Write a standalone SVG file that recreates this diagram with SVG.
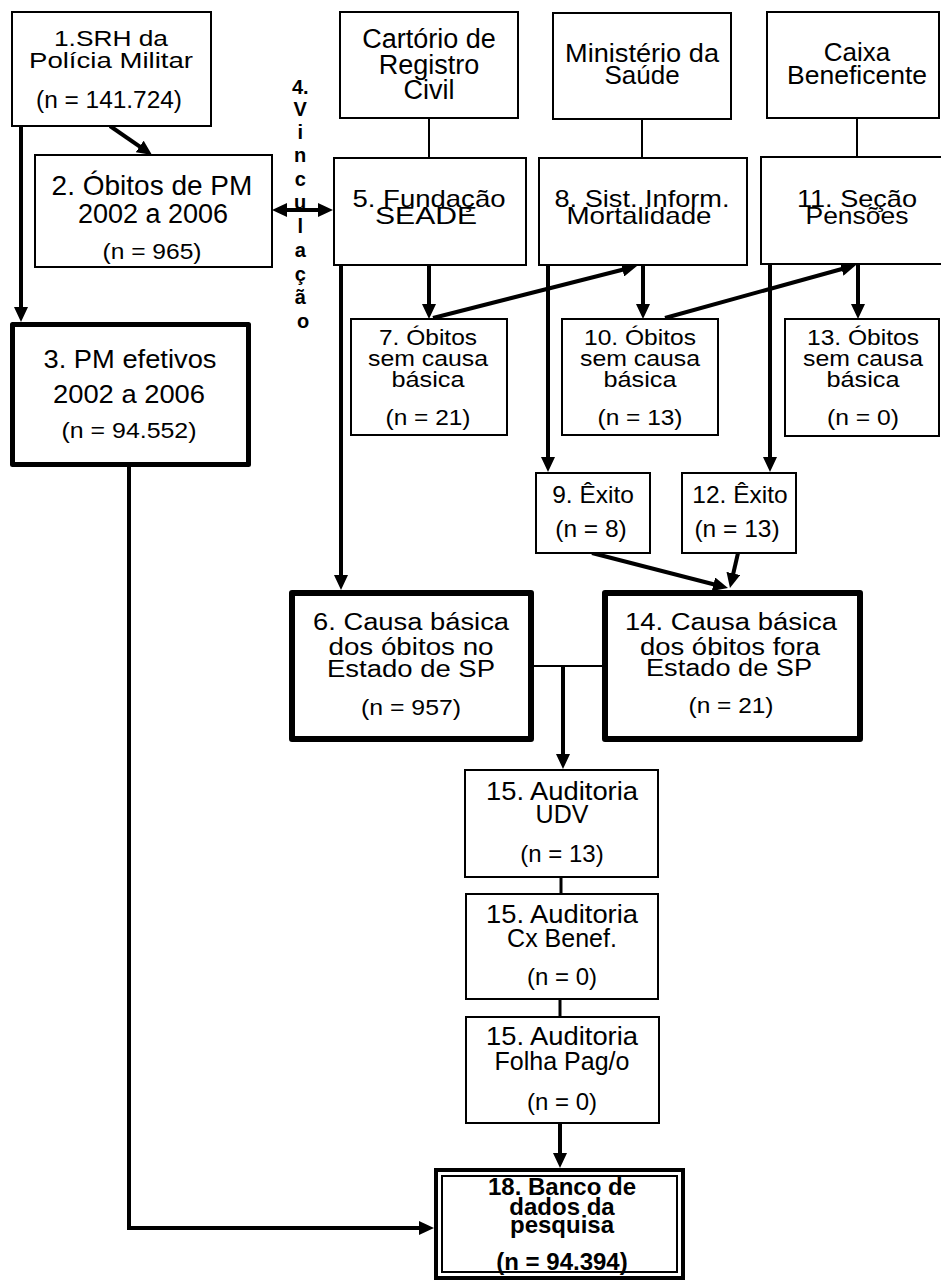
<svg xmlns="http://www.w3.org/2000/svg" width="941" height="1281" viewBox="0 0 941 1281">
<style>
.box{fill:#fff;stroke:#000;stroke-width:2}
.thick{fill:#fff;stroke:#000;stroke-width:6;stroke-linejoin:round}
.t{font-family:"Liberation Sans",Arial,sans-serif;fill:#000;text-anchor:middle}
.b{font-weight:bold}
.c{stroke:#000;stroke-width:4;fill:none}
.thin{stroke:#000;stroke-width:2;fill:none}
</style>
<defs>
<marker id="ah" markerUnits="userSpaceOnUse" viewBox="0 0 15 14" markerWidth="15" markerHeight="14" refX="5" refY="7" orient="auto-start-reverse">
<path d="M0,0 L15,7 L0,14 Z" fill="#000"/>
</marker>
</defs>
<rect width="941" height="1281" fill="#fff"/>

<g id="connectors">
<line class="thin" x1="429" y1="118" x2="429" y2="158"/>
<line class="thin" x1="642" y1="119" x2="642" y2="158"/>
<line class="thin" x1="857" y1="118" x2="857" y2="157"/>
<line class="c" x1="21" y1="126" x2="21" y2="312" marker-end="url(#ah)"/>
<line class="c" x1="110" y1="126" x2="143.8" y2="149.3" marker-end="url(#ah)"/>
<line class="c" x1="282" y1="210" x2="323" y2="210" marker-start="url(#ah)" marker-end="url(#ah)"/>
<line class="c" x1="429" y1="265" x2="429" y2="309" marker-end="url(#ah)"/>
<line class="c" x1="643" y1="265" x2="643" y2="309" marker-end="url(#ah)"/>
<line class="c" x1="858" y1="264" x2="858" y2="309" marker-end="url(#ah)"/>
<line class="c" x1="433" y1="318" x2="627.3" y2="268.5" marker-end="url(#ah)"/>
<line class="c" x1="665" y1="318" x2="846.4" y2="267.7" marker-end="url(#ah)"/>
<line class="c" x1="548" y1="265" x2="548" y2="462" marker-end="url(#ah)"/>
<line class="c" x1="770" y1="264" x2="770" y2="462" marker-end="url(#ah)"/>
<line class="c" x1="341" y1="265" x2="341" y2="580" marker-end="url(#ah)"/>
<line class="c" x1="592" y1="553" x2="718.3" y2="585.5" marker-end="url(#ah)"/>
<line class="c" x1="738" y1="553" x2="732.2" y2="578.3" marker-end="url(#ah)"/>
<line class="thin" x1="534" y1="666" x2="602" y2="666"/>
<line class="c" x1="563" y1="666" x2="563" y2="759" marker-end="url(#ah)"/>
<line class="c" x1="561" y1="877" x2="561" y2="894" style="stroke-width:3"/>
<line class="c" x1="560" y1="999" x2="560" y2="1017" style="stroke-width:3"/>
<line class="c" x1="560" y1="1123" x2="560" y2="1158" marker-end="url(#ah)"/>
<path class="c" d="M129,467 V1228 H424" marker-end="url(#ah)"/>
</g>

<g id="n1">
<rect class="box" x="12" y="12" width="199" height="114"/>
<text class="t" font-size="22" x="111" y="46" textLength="114" lengthAdjust="spacingAndGlyphs">1.SRH da</text>
<text class="t" font-size="22" x="111" y="68" textLength="164" lengthAdjust="spacingAndGlyphs">Polícia Militar</text>
<text class="t" font-size="23" x="109" y="108" textLength="146" lengthAdjust="spacingAndGlyphs">(n = 141.724)</text>
</g>

<g id="n2">
<rect class="box" x="35" y="155" width="237" height="112"/>
<text class="t" font-size="28" x="152" y="195">2. Óbitos de PM</text>
<text class="t" font-size="27" x="153" y="223">2002 a 2006</text>
<text class="t" font-size="22" x="152" y="259" textLength="99" lengthAdjust="spacingAndGlyphs">(n = 965)</text>
</g>

<g id="n3">
<rect class="thick" x="12.5" y="324.5" width="236" height="140" style="stroke-width:5"/>
<text class="t" font-size="25" x="130" y="368" textLength="173" lengthAdjust="spacingAndGlyphs">3. PM efetivos</text>
<text class="t" font-size="25" x="129" y="403" textLength="152" lengthAdjust="spacingAndGlyphs">2002 a 2006</text>
<text class="t" font-size="22" x="129" y="438" textLength="135" lengthAdjust="spacingAndGlyphs">(n = 94.552)</text>
</g>

<g id="n4">
<text class="t b" font-size="20" x="303">
<tspan x="303" y="94">4.</tspan>
<tspan x="303" y="116">V</tspan>
<tspan x="303" y="139">i</tspan>
<tspan x="303" y="162">n</tspan>
<tspan x="303" y="186">c</tspan>
<tspan x="303" y="209">u</tspan>
<tspan x="303" y="233">l</tspan>
<tspan x="303" y="257">a</tspan>
<tspan x="303" y="281">ç</tspan>
<tspan x="303" y="304">ã</tspan>
<tspan x="303" y="328">o</tspan>
</text>
</g>

<g id="cartorio">
<rect class="box" x="340" y="12" width="178" height="106"/>
<text class="t" font-size="27" x="429" y="48">Cartório de</text>
<text class="t" font-size="27" x="429" y="74">Registro</text>
<text class="t" font-size="27" x="429" y="99">Civil</text>
</g>

<g id="ministerio">
<rect class="box" x="553" y="13" width="178" height="106"/>
<text class="t" font-size="26" x="642" y="62" textLength="154" lengthAdjust="spacingAndGlyphs">Ministério da</text>
<text class="t" font-size="26" x="642" y="84">Saúde</text>
</g>

<g id="caixa">
<rect class="box" x="767" y="12" width="172" height="106"/>
<text class="t" font-size="26" x="857" y="61">Caixa</text>
<text class="t" font-size="26" x="857" y="84" textLength="140" lengthAdjust="spacingAndGlyphs">Beneficente</text>
</g>

<g id="n5">
<rect class="box" x="334" y="158" width="192" height="107"/>
<text class="t" font-size="24" x="429" y="207" textLength="153" lengthAdjust="spacingAndGlyphs">5. Fundação</text>
<text class="t" font-size="24" x="426" y="224" textLength="102" lengthAdjust="spacingAndGlyphs">SEADE</text>
</g>

<g id="n8">
<rect class="box" x="539" y="158" width="208" height="107"/>
<text class="t" font-size="24" x="642" y="207" textLength="175" lengthAdjust="spacingAndGlyphs">8. Sist. Inform.</text>
<text class="t" font-size="24" x="639" y="224" textLength="145" lengthAdjust="spacingAndGlyphs">Mortalidade</text>
</g>

<g id="n11">
<rect class="box" x="761" y="157" width="184" height="107"/>
<text class="t" font-size="24" x="857" y="207" textLength="120" lengthAdjust="spacingAndGlyphs">11. Seção</text>
<text class="t" font-size="24" x="857" y="224" textLength="103" lengthAdjust="spacingAndGlyphs">Pensões</text>
</g>

<g id="n7">
<rect class="box" x="351" y="319" width="156" height="116"/>
<text class="t" font-size="22" x="428" y="345" textLength="98" lengthAdjust="spacingAndGlyphs">7. Óbitos</text>
<text class="t" font-size="22" x="428" y="366" textLength="120" lengthAdjust="spacingAndGlyphs">sem causa</text>
<text class="t" font-size="22" x="428" y="387" textLength="73" lengthAdjust="spacingAndGlyphs">básica</text>
<text class="t" font-size="22" x="428" y="425" textLength="85" lengthAdjust="spacingAndGlyphs">(n = 21)</text>
</g>

<g id="n10">
<rect class="box" x="562" y="319" width="156" height="116"/>
<text class="t" font-size="22" x="640" y="345" textLength="112" lengthAdjust="spacingAndGlyphs">10. Óbitos</text>
<text class="t" font-size="22" x="640" y="366" textLength="120" lengthAdjust="spacingAndGlyphs">sem causa</text>
<text class="t" font-size="22" x="640" y="387" textLength="73" lengthAdjust="spacingAndGlyphs">básica</text>
<text class="t" font-size="22" x="640" y="425" textLength="85" lengthAdjust="spacingAndGlyphs">(n = 13)</text>
</g>

<g id="n13">
<rect class="box" x="785" y="319" width="154" height="117"/>
<text class="t" font-size="22" x="863" y="345" textLength="112" lengthAdjust="spacingAndGlyphs">13. Óbitos</text>
<text class="t" font-size="22" x="863" y="366" textLength="120" lengthAdjust="spacingAndGlyphs">sem causa</text>
<text class="t" font-size="22" x="863" y="387" textLength="73" lengthAdjust="spacingAndGlyphs">básica</text>
<text class="t" font-size="22" x="863" y="425" textLength="72" lengthAdjust="spacingAndGlyphs">(n = 0)</text>
</g>

<g id="n9">
<rect class="box" x="536" y="473" width="114" height="80"/>
<text class="t" font-size="24.5" x="593" y="503">9. Êxito</text>
<text class="t" font-size="24.5" x="591" y="537">(n = 8)</text>
</g>

<g id="n12">
<rect class="box" x="682" y="473" width="114" height="80"/>
<text class="t" font-size="24.5" x="740" y="503">12. Êxito</text>
<text class="t" font-size="24.5" x="737" y="537">(n = 13)</text>
</g>

<g id="n6">
<rect class="thick" x="292" y="593" width="239" height="146"/>
<text class="t" font-size="23" x="411" y="630" textLength="196" lengthAdjust="spacingAndGlyphs">6. Causa básica</text>
<text class="t" font-size="23" x="411" y="655" textLength="165" lengthAdjust="spacingAndGlyphs">dos óbitos no</text>
<text class="t" font-size="23" x="411" y="677" textLength="168" lengthAdjust="spacingAndGlyphs">Estado de SP</text>
<text class="t" font-size="22" x="411" y="715" textLength="100" lengthAdjust="spacingAndGlyphs">(n = 957)</text>
</g>

<g id="n14">
<rect class="thick" x="605" y="593" width="255" height="146"/>
<text class="t" font-size="23" x="731" y="630" textLength="212" lengthAdjust="spacingAndGlyphs">14. Causa básica</text>
<text class="t" font-size="23" x="730" y="655" textLength="180" lengthAdjust="spacingAndGlyphs">dos óbitos fora</text>
<text class="t" font-size="23" x="729" y="676" textLength="166" lengthAdjust="spacingAndGlyphs">Estado de SP</text>
<text class="t" font-size="22" x="731" y="713" textLength="85" lengthAdjust="spacingAndGlyphs">(n = 21)</text>
</g>

<g id="n15a">
<rect class="box" x="465" y="770" width="193" height="107"/>
<text class="t" font-size="25" x="562" y="800" textLength="152" lengthAdjust="spacingAndGlyphs">15. Auditoria</text>
<text class="t" font-size="25" x="562" y="823">UDV</text>
<text class="t" font-size="24" x="562" y="862">(n = 13)</text>
</g>

<g id="n15b">
<rect class="box" x="466" y="894" width="192" height="105"/>
<text class="t" font-size="25" x="562" y="923" textLength="152" lengthAdjust="spacingAndGlyphs">15. Auditoria</text>
<text class="t" font-size="25" x="562" y="947">Cx Benef.</text>
<text class="t" font-size="24" x="562" y="985">(n = 0)</text>
</g>

<g id="n15c">
<rect class="box" x="466" y="1017" width="193" height="106"/>
<text class="t" font-size="25" x="562" y="1045" textLength="152" lengthAdjust="spacingAndGlyphs">15. Auditoria</text>
<text class="t" font-size="25" x="562" y="1070">Folha Pag/o</text>
<text class="t" font-size="24" x="562" y="1110">(n = 0)</text>
</g>

<g id="n18">
<rect x="436" y="1170" width="247" height="108" fill="#fff" stroke="#000" stroke-width="4"/>
<rect x="442" y="1176" width="235" height="96" fill="none" stroke="#000" stroke-width="2"/>
<text class="t b" font-size="24" x="562" y="1195">18. Banco de</text>
<text class="t b" font-size="24" x="562" y="1215">dados da</text>
<text class="t b" font-size="24" x="562" y="1233">pesquisa</text>
<text class="t b" font-size="24" x="562" y="1270">(n = 94.394)</text>
</g>
</svg>
